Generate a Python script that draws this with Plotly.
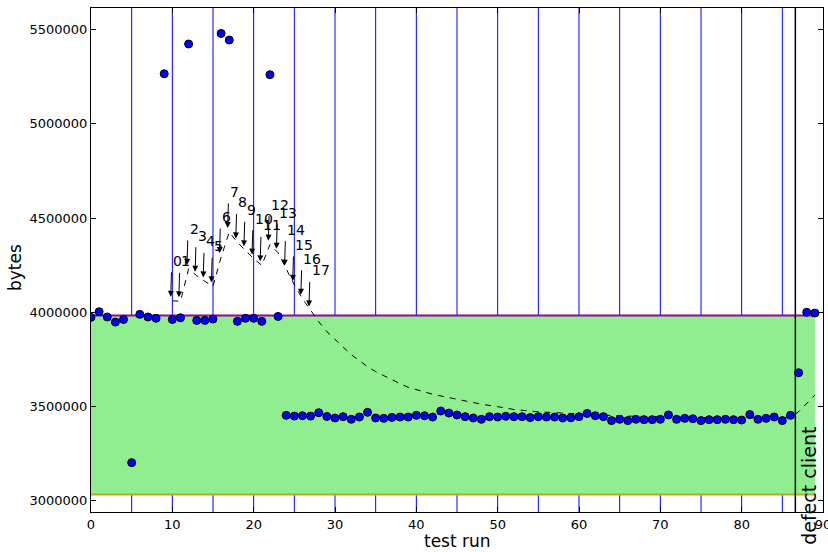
import plotly.graph_objects as go

# ---------------- data ----------------
test_run = list(range(90))
bytes_values = [
    3973000, 4003000, 3975000, 3948000, 3962000, 3202000, 3989000, 3975000, 3968000, 5266000,
    3962000, 3971000, 5424000, 3957000, 3957000, 3964000, 5480000, 5445000, 3952000, 3968000,
    3968000, 3952000, 5261000, 3978000, 3453000, 3449000, 3451000, 3449000, 3467000, 3447000,
    3439000, 3446000, 3432000, 3444000, 3469000, 3439000, 3437000, 3442000, 3444000, 3444000,
    3453000, 3451000, 3444000, 3476000, 3465000, 3455000, 3446000, 3439000, 3432000, 3446000,
    3444000, 3448000, 3446000, 3446000, 3441000, 3446000, 3444000, 3444000, 3439000, 3440000,
    3446000, 3463000, 3451000, 3446000, 3425000, 3432000, 3425000, 3432000, 3430000, 3430000,
    3432000, 3455000, 3432000, 3437000, 3435000, 3425000, 3430000, 3430000, 3432000, 3430000,
    3428000, 3457000, 3432000, 3437000, 3444000, 3425000, 3453000, 3679000, 4000000, 3996000,
]

# smoothed (dashed) curve
curve_x = [10, 11, 12, 13, 14, 15, 16, 17, 18, 19, 20, 21, 22, 23, 24, 25, 26, 27,
           28, 29, 30, 31, 32, 33, 34, 35, 36, 37, 38, 39, 40,
           42, 44, 46, 48, 50, 52, 55, 58, 62, 66, 70, 75, 80, 86, 87, 88, 89]
curve_values = [4061000, 4058000, 4230000, 4194000, 4164000, 4138000, 4293000, 4426000,
                4371000, 4329000, 4285000, 4249000, 4359000, 4316000, 4226000, 4145000,
                4072000, 4010000,
                3950000, 3897000, 3855000, 3812000, 3775000, 3743000, 3711000, 3685000,
                3663000, 3642000, 3621000, 3602000, 3589000,
                3565000, 3547000, 3528000, 3512000, 3499000, 3484000, 3472000, 3464000,
                3456000, 3449000, 3444000, 3441000, 3439000, 3442000, 3472000, 3515000, 3560000]
annotated_labels = [str(i) for i in range(18)]   # labels 0..17 on the first 18 curve points

band_upper = 3983000
band_lower = 3033000
band_x = [0, 89]

grid_runs = [5, 10, 15, 20, 25, 30, 35, 40, 45, 50, 55, 60, 65, 70, 75, 80, 85]
defect_run = 86.6
defect_label = "defect client"

x_ticks = [0, 10, 20, 30, 40, 50, 60, 70, 80, 90]
y_ticks = [3000000, 3500000, 4000000, 4500000, 5000000, 5500000]
y_tick_labels = ["3000000", "3500000", "4000000", "4500000", "5000000", "5500000"]
x_title = "test run"
y_title = "bytes"

# ---------------- layout constants ----------------
W, H = 828, 552
PLOT_LEFT, PLOT_RIGHT = 91, 823
PLOT_TOP, PLOT_BOTTOM = 8, 512
PW, PH = PLOT_RIGHT - PLOT_LEFT, PLOT_BOTTOM - PLOT_TOP
Y_MIN, Y_MAX = 2940000, 5615000
UNITS_PER_PX = (Y_MAX - Y_MIN) / PH
FONT = "DejaVu Sans"

fig = go.Figure()

shapes = []
shapes.append(dict(type="rect", xref="x", yref="y", x0=band_x[0], x1=band_x[1],
                   y0=band_lower, y1=band_upper, fillcolor="#90ee90",
                   line=dict(width=0), layer="below"))
for gx in grid_runs:
    shapes.append(dict(type="line", xref="x", yref="paper", x0=gx, x1=gx, y0=0, y1=1,
                       line=dict(color="#0000ff", width=1), layer="below"))
shapes.append(dict(type="line", xref="x", yref="y", x0=band_x[0], x1=band_x[1],
                   y0=band_upper, y1=band_upper, line=dict(color="#a000a0", width=2),
                   layer="below"))
shapes.append(dict(type="line", xref="x", yref="y", x0=band_x[0], x1=band_x[1],
                   y0=band_lower, y1=band_lower, line=dict(color="#b4b400", width=2),
                   layer="below"))
shapes.append(dict(type="line", xref="x", yref="paper", x0=defect_run, x1=defect_run,
                   y0=0, y1=1, line=dict(color="black", width=1.5), layer="above"))

fig.add_trace(go.Scatter(x=curve_x, y=curve_values, mode="lines",
                         line=dict(color="black", width=1, dash="6px,6px"),
                         hoverinfo="skip", showlegend=False))
fig.add_trace(go.Scatter(x=test_run, y=bytes_values, mode="markers",
                         marker=dict(color="#0000ff", size=8,
                                     line=dict(color="black", width=1)),
                         showlegend=False))

annotations = []
for i, lab in enumerate(annotated_labels):
    px = curve_x[i]
    py = curve_values[i]
    text_y = py + 40 * UNITS_PER_PX
    annotations.append(dict(x=px, y=text_y, xref="x", yref="y", text=lab,
                            showarrow=False, xanchor="left", yanchor="middle",
                            xshift=-1,
                            font=dict(family=FONT, size=14, color="black")))
    annotations.append(dict(x=px - 0.2, y=py + 4 * UNITS_PER_PX, xref="x", yref="y",
                            ax=px - 0.1, ay=py + 30 * UNITS_PER_PX, axref="x", ayref="y",
                            text="", showarrow=True, arrowhead=2, arrowsize=1.2,
                            arrowwidth=1, arrowcolor="black"))
annotations.append(dict(x=88.3, y=3000000 + 15 * UNITS_PER_PX, xref="x", yref="y",
                        text=defect_label, textangle=-90, showarrow=False,
                        xanchor="center", yanchor="middle",
                        font=dict(family=FONT, size=19, color="black")))
# axis titles
annotations.append(dict(x=0.5, y=-(541 - PLOT_BOTTOM) / PH,
                        xref="paper", yref="paper", text=x_title, showarrow=False,
                        xanchor="center", yanchor="middle",
                        font=dict(family=FONT, size=17, color="black")))
annotations.append(dict(x=-(PLOT_LEFT - 15) / PW, y=(PLOT_BOTTOM - 268) / PH,
                        xref="paper", yref="paper", text=y_title, showarrow=False,
                        textangle=-90, xanchor="center", yanchor="middle",
                        font=dict(family=FONT, size=17, color="black")))

fig.update_layout(
    width=W, height=H,
    margin=dict(l=PLOT_LEFT, r=W - PLOT_RIGHT, t=PLOT_TOP, b=H - PLOT_BOTTOM, autoexpand=False),
    paper_bgcolor="white", plot_bgcolor="white",
    shapes=shapes, annotations=annotations,
    font=dict(family=FONT, size=12, color="black"),
    xaxis=dict(range=[0, 90], tickvals=x_ticks, ticks="inside", ticklen=5,
               tickcolor="black", showline=True, linecolor="black", linewidth=1,
               mirror="ticks", showgrid=False, zeroline=False, automargin=False,
               ticklabeloverflow="allow",
               tickfont=dict(family=FONT, size=13)),
    yaxis=dict(range=[Y_MIN, Y_MAX], tickvals=y_ticks, ticktext=y_tick_labels,
               ticks="inside", ticklen=5, tickcolor="black", showline=True,
               linecolor="black", linewidth=1, mirror="ticks", showgrid=False,
               zeroline=False, automargin=False,
               tickfont=dict(family=FONT, size=13)),
)

fig.write_html("out.html", config={"displayModeBar": False},
               post_script="document.body.style.margin='0';document.body.style.overflow='hidden';")
